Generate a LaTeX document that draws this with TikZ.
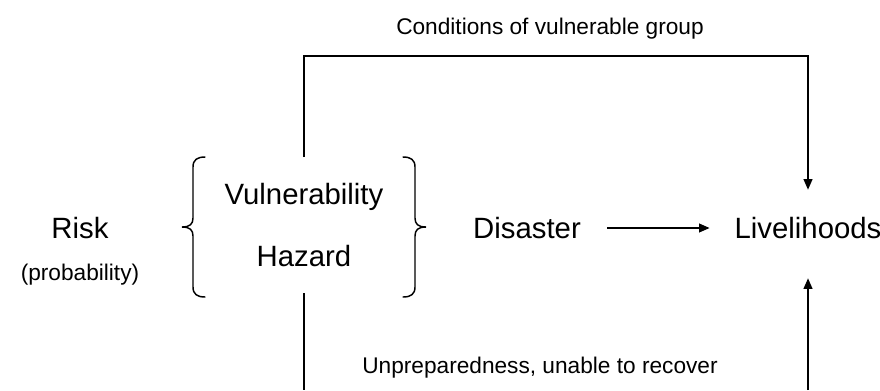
\documentclass[tikz,border=0pt]{standalone}
\usepackage{fontspec}
\setmainfont{Liberation Sans}
\usetikzlibrary{arrows.meta}

\tikzset{
  big/.style={font=\fontsize{22}{26}\selectfont, inner sep=0pt, text height=15.7pt, text depth=0pt},
  small/.style={font=\fontsize{17}{20}\selectfont, inner sep=0pt, text height=12.2pt, text depth=0pt},
  link/.style={line width=1.5pt},
  arr/.style={link, -{Triangle[length=8pt,width=6.5pt]}},
  curly/.style={line width=1.1pt, line cap=round},
}

\begin{document}
\begin{tikzpicture}[x=0.75pt,y=0.75pt,yscale=-1,xscale=1]
\useasboundingbox (0,0) rectangle (880,390);

% Text Node
\node[small] (cond) at (550,26) {Conditions of vulnerable group};
% Text Node
\node[big] (risk) at (80,228) {Risk};
% Text Node
\node[small] (prob) at (80,272) {(probability)};
% Text Node
\node[big] (vul) at (304,194) {Vulnerability};
% Text Node
\node[big] (haz) at (304,256) {Hazard};
% Text Node
\node[big] (dis) at (527,228) {Disaster};
% Text Node
\node[big] (liv) at (808,228) {Livelihoods};
% Text Node
\node[small] (unprep) at (540,365) {Unpreparedness, unable to recover};

\coordinate (vtop) at (304,157);
\coordinate (corner) at (304,56);
\coordinate (vbot) at (304,293);
\coordinate (bottomL) at (304,390);
\coordinate (bottomR) at (808,390);

%Shape: Brace left
\draw[curly] (205,157) .. controls (197,157) and (193,160) .. (193,167) -- (193,218) .. controls (193,224) and (190,227) .. (182,227) .. controls (190,227) and (193,230) .. (193,236) -- (193,287) .. controls (193,294) and (197,297) .. (205,297) ;
%Shape: Brace right
\draw[curly] (403,157) .. controls (411,157) and (415,160) .. (415,167) -- (415,218) .. controls (415,224) and (418,227) .. (426,227) .. controls (418,227) and (415,230) .. (415,236) -- (415,287) .. controls (415,294) and (411,297) .. (403,297) ;

%Straight Lines
\draw[arr, shorten >=20.6pt] (vtop) -- (corner) -| (liv.north) ;
%Straight Lines
\draw[arr, shorten <=19.6pt, shorten >=18.5pt] (dis.east) -- (liv.west) ;
%Straight Lines
\draw[link] (vbot) -- (bottomL) ;
%Straight Lines
\draw[arr, shorten >=29.6pt] (bottomR) -- (liv.south) ;

\end{tikzpicture}
\end{document}
